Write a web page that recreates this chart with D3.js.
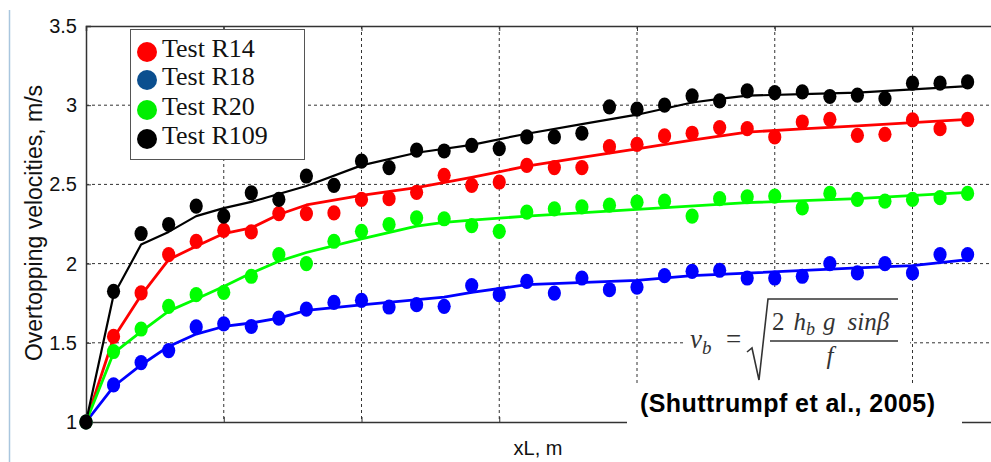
<!DOCTYPE html>
<html>
<head>
<meta charset="utf-8">
<script src="https://cdnjs.cloudflare.com/ajax/libs/d3/7.8.5/d3.min.js"></script>
<style>
  body { margin: 0; background: #fff; }
  svg { display: block; }
</style>
</head>
<body>
<div id="chart"></div>
<script>
// measured point positions (x in point spacing units) and velocities, m/s
var xL = [0,1,2,3,4,5,6,7,8,9,10,11,12,13,14,15,16,17,18,19,20,21,22,23,24,25,26,27,28,29,30,31,32];
var r14 = [1.00,1.54,1.815,2.057,2.14,2.21,2.20,2.316,2.316,2.32,2.405,2.41,2.45,2.557,2.494,2.515,2.62,2.606,2.606,2.738,2.753,2.806,2.823,2.859,2.852,2.80,2.894,2.911,2.81,2.816,2.907,2.852,2.911];
var r18 = [1.00,1.234,1.375,1.451,1.60,1.62,1.603,1.656,1.713,1.755,1.768,1.726,1.741,1.73,1.861,1.804,1.888,1.814,1.909,1.835,1.852,1.924,1.951,1.958,1.909,1.909,1.92,2.0,1.941,2.0,1.941,2.057,2.057];
var r20 = [1.00,1.445,1.587,1.73,1.804,1.818,1.92,2.057,2.0,2.141,2.204,2.247,2.289,2.283,2.24,2.204,2.325,2.346,2.358,2.369,2.388,2.394,2.30,2.41,2.422,2.426,2.352,2.443,2.405,2.394,2.405,2.416,2.443];
var r109 = [1.00,1.825,2.19,2.247,2.363,2.30,2.447,2.405,2.553,2.494,2.647,2.606,2.717,2.711,2.747,2.726,2.80,2.80,2.823,2.99,2.975,3.0,3.059,3.027,3.09,3.08,3.084,3.055,3.063,3.042,3.139,3.139,3.147];

// fitted curves
var fitX14 = [0,1,2,3,4,5,6,7,8,10,12,14,16,18,20,22,24,26,28,30,32];
var fit14 = [1.0,1.53,1.80,2.025,2.11,2.19,2.225,2.31,2.37,2.43,2.48,2.545,2.615,2.67,2.725,2.78,2.83,2.85,2.87,2.89,2.91];
var fitX18 = [0,1,2,3,4,5,6,7,8,10,13,14,16,20,22,24,28,30,32];
var fit18 = [1.0,1.224,1.36,1.477,1.555,1.603,1.625,1.656,1.705,1.74,1.789,1.818,1.867,1.894,1.924,1.94,1.973,1.987,2.025];
var fitX20 = [0,1,2,3,4,5,6,7,8,10,12,13,14,16,20,24,28,32];
var fit20 = [1.0,1.435,1.57,1.70,1.776,1.856,1.94,2.015,2.07,2.156,2.236,2.26,2.274,2.30,2.342,2.385,2.41,2.45];
var fitX109 = [0,1,2,3,4,5,6,8,10,12,14,16,18,20,22,23,24,26,28,30,32];
var fit109 = [1.0,1.80,2.12,2.20,2.30,2.35,2.39,2.49,2.62,2.70,2.75,2.82,2.88,2.94,3.017,3.04,3.06,3.07,3.08,3.10,3.12];

var yTicks = [1, 1.5, 2, 2.5, 3, 3.5];
var xTicks = [0, 5, 10, 15, 20, 25, 30, 35];
var names = ["Test R14", "Test R18", "Test R20", "Test R109"];

var W = 991, H = 462;
var plotL = 86, plotT = 26, plotB = 422;

var x = d3.scaleLinear().domain([0, 35]).range([plotL, plotL + 35 * 27.55]);
var y = d3.scaleLinear().domain([1, 3.5]).range([plotB, plotT]);

var svg = d3.select("#chart").append("svg")
    .attr("width", W)
    .attr("height", H);

// light border line on the far left
svg.append("line")
    .attr("x1", 9.5).attr("x2", 9.5)
    .attr("y1", 10).attr("y2", H)
    .attr("stroke", "#a9c6de").attr("stroke-width", 1.5);

// grid
var grid = svg.append("g")
    .attr("stroke", "#333")
    .attr("stroke-width", 1)
    .attr("stroke-dasharray", "3,3");

grid.selectAll(".gy")
    .data(yTicks.slice(1, -1))
    .enter().append("line")
    .attr("x1", plotL).attr("x2", W)
    .attr("y1", function(d) { return y(d); })
    .attr("y2", function(d) { return y(d); });

grid.selectAll(".gx")
    .data(xTicks.slice(1))
    .enter().append("line")
    .attr("x1", function(d) { return x(d); })
    .attr("x2", function(d) { return x(d); })
    .attr("y1", plotT).attr("y2", plotB);

// axes
var axisL = svg.append("g")
    .attr("transform", "translate(" + plotL + ",0)")
    .call(d3.axisLeft(y).tickValues(yTicks).tickSize(-5).tickPadding(9).tickFormat(d3.format("")));
axisL.select(".domain").attr("stroke", "#333").attr("stroke-width", 1.5);
axisL.selectAll(".tick line").attr("stroke", "#333");
axisL.selectAll("text")
    .attr("font-family", "Liberation Sans, Arial, sans-serif")
    .attr("font-size", 20)
    .attr("fill", "#111");

var axisB = svg.append("g")
    .attr("transform", "translate(0," + plotB + ")")
    .call(d3.axisBottom(x).tickValues(xTicks).tickSize(-5).tickFormat(""));
axisB.select(".domain").attr("stroke", "#333").attr("stroke-width", 1.5);
axisB.selectAll(".tick line").attr("stroke", "#333");

var axisT = svg.append("g")
    .attr("transform", "translate(0," + plotT + ")")
    .call(d3.axisTop(x).tickValues(xTicks).tickSize(-5).tickFormat(""));
axisT.select(".domain").attr("stroke", "#333").attr("stroke-width", 1.5);
axisT.selectAll(".tick line").attr("stroke", "#333");

// axis titles
svg.append("text")
    .attr("x", 538).attr("y", 455)
    .attr("text-anchor", "middle")
    .attr("font-family", "Liberation Sans, Arial, sans-serif")
    .attr("font-size", 20)
    .attr("fill", "#111")
    .text("xL, m");

svg.append("text")
    .attr("transform", "translate(42,223) rotate(-90)")
    .attr("text-anchor", "middle")
    .attr("font-family", "Liberation Sans, Arial, sans-serif")
    .attr("font-size", 23)
    .attr("fill", "#111")
    .text("Overtopping velocities, m/s");

// series
var series = [
  { fx: fitX14, fy: fit14, v: r14, color: "#ff0000", key: "#ff0000" },
  { fx: fitX18, fy: fit18, v: r18, color: "#0000ff", key: "#0b4f8f" },
  { fx: fitX20, fy: fit20, v: r20, color: "#00ff00", key: "#00ee00" },
  { fx: fitX109, fy: fit109, v: r109, color: "#000000", key: "#000000" }
];

var line = d3.line()
    .x(function(d) { return x(d[0]); })
    .y(function(d) { return y(d[1]); });

series.forEach(function(s) {
  svg.append("path")
     .datum(d3.zip(s.fx, s.fy))
     .attr("fill", "none")
     .attr("stroke", s.color)
     .attr("stroke-width", s.color === "#000000" ? 2.2 : 2.8)
     .attr("stroke-linejoin", "round")
     .attr("d", line);
});

series.forEach(function(s) {
  svg.append("g").selectAll("ellipse")
     .data(d3.zip(xL, s.v))
     .enter().append("ellipse")
     .attr("cx", function(d) { return x(d[0]); })
     .attr("cy", function(d) { return y(d[1]); })
     .attr("rx", 6.6)
     .attr("ry", 7.6)
     .attr("fill", s.color);
});

// legend
var lg = svg.append("g");
lg.append("rect")
    .attr("x", 130.5).attr("y", 29.5)
    .attr("width", 174).attr("height", 130)
    .attr("fill", "#fff")
    .attr("stroke", "#555");

var rows = [57, 85, 115, 144];
series.forEach(function(s, i) {
  lg.append("circle")
    .attr("cx", 147).attr("cy", rows[i] - 5)
    .attr("r", 10)
    .attr("fill", s.key);
  lg.append("text")
    .attr("x", 162).attr("y", rows[i])
    .attr("font-family", "Liberation Serif, Times New Roman, serif")
    .attr("font-size", 26)
    .attr("fill", "#111")
    .text(names[i]);
});

// formula panel
svg.append("rect")
    .attr("x", 683).attr("y", 290)
    .attr("width", 227).attr("height", 93)
    .attr("fill", "#fff");
svg.append("rect")
    .attr("x", 627).attr("y", 383)
    .attr("width", 335).attr("height", 79)
    .attr("fill", "#fff");

var fm = svg.append("g")
    .attr("font-family", "Liberation Serif, Times New Roman, serif")
    .attr("font-style", "italic")
    .attr("fill", "#333");

var vb = fm.append("text").attr("x", 690).attr("y", 348).attr("font-size", 27);
vb.append("tspan").text("v");
vb.append("tspan").attr("dy", 6).attr("font-size", 19).text("b");

fm.append("text")
    .attr("x", 726).attr("y", 348)
    .attr("font-size", 27)
    .attr("font-style", "normal")
    .text("=");

var num = fm.append("text").attr("x", 772).attr("y", 330).attr("font-size", 25);
num.append("tspan").attr("font-style", "normal").text("2");
num.append("tspan").attr("dx", 9).text("h");
num.append("tspan").attr("dy", 5).attr("font-size", 18).text("b");
num.append("tspan").attr("dy", -5).attr("dx", 8).text("g");
num.append("tspan").attr("dx", 12).text("sin\u03b2");

fm.append("text")
    .attr("x", 830).attr("y", 364)
    .attr("text-anchor", "middle")
    .attr("font-size", 25)
    .text("f");

fm.append("path")
    .attr("d", "M747,352 L752,348 L759,380 L768,299 L898,299")
    .attr("fill", "none")
    .attr("stroke", "#333")
    .attr("stroke-width", 1.6);

fm.append("line")
    .attr("x1", 770).attr("x2", 898)
    .attr("y1", 341).attr("y2", 341)
    .attr("stroke", "#333")
    .attr("stroke-width", 1.6);

svg.append("text")
    .attr("x", 640).attr("y", 412)
    .attr("font-family", "Liberation Sans, Arial, sans-serif")
    .attr("font-weight", "bold")
    .attr("font-size", 25)
    .attr("textLength", 295)
    .attr("fill", "#000")
    .text("(Shuttrumpf et al., 2005)");
</script>
</body>
</html>
